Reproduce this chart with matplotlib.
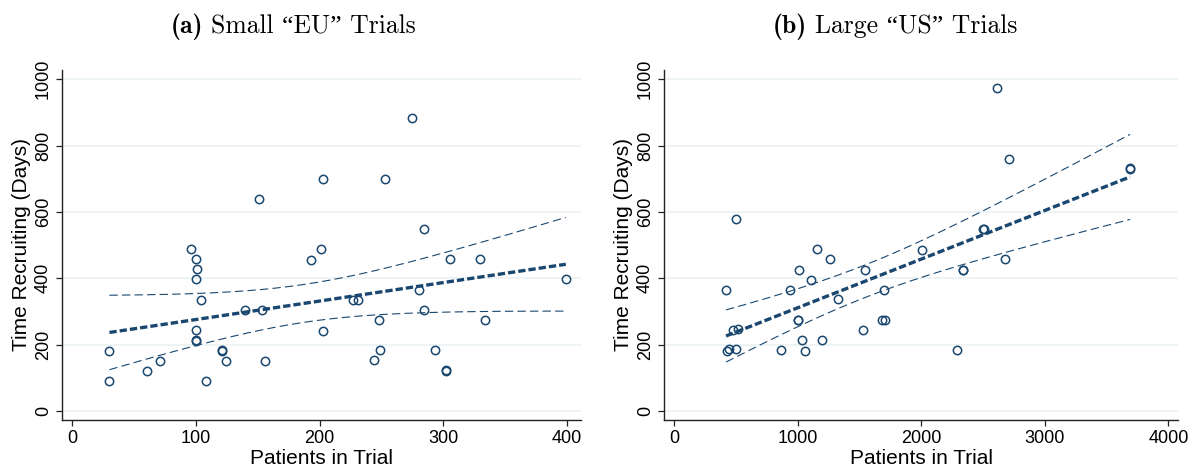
import numpy as np
import matplotlib
matplotlib.use("Agg")
import matplotlib.pyplot as plt

# ---------------- data ----------------
eu_patients = [30, 30, 60, 71, 96, 100, 101, 100, 104, 100, 100, 100, 108, 121, 121,
               124, 140, 151, 153, 156, 193, 201, 203, 203, 227, 231, 244, 248, 249,
               253, 275, 280, 284, 284, 293, 302, 302, 305, 330, 334, 399]
eu_days = [180, 92, 122, 152, 488, 457, 428, 397, 336, 245, 213, 210, 92, 184, 182,
           152, 305, 638, 305, 152, 456, 487, 700, 242, 336, 336, 154, 274, 184,
           700, 884, 366, 548, 305, 184, 123, 122, 458, 458, 275, 397]

us_patients = [2613, 2710, 3688, 3690, 499, 2504, 2506, 1159, 2008, 1262, 2680, 1014,
               1549, 2340, 2342, 1106, 421, 942, 1702, 1331, 1000, 1002, 1680, 1710,
               476, 521, 1529, 1039, 1195, 429, 448, 499, 869, 1056, 2292]
us_days = [974, 761, 732, 730, 578, 549, 550, 487, 486, 458, 458, 425, 426, 424, 425,
           394, 366, 366, 366, 337, 274, 274, 273, 273, 244, 246, 243, 213, 214, 182,
           188, 186, 184, 182, 183]

eu_xticks = [0, 100, 200, 300, 400]
us_xticks = [0, 1000, 2000, 3000, 4000]
yticks = [0, 200, 400, 600, 800, 1000]

titles = [("(a)", "Small \u201cEU\u201d Trials"), ("(b)", "Large \u201cUS\u201d Trials")]
xlabel = "Patients in Trial"
ylabel = "Time Recruiting (Days)"

# ---------------- style ----------------
NAVY = "#1a476f"
GRID = "#e9f1f3"
W, H = 1201, 472
fig = plt.figure(figsize=(W / 100, H / 100), dpi=100)
sans = ["Liberation Sans", "DejaVu Sans"]


def t_crit(df):
    # 97.5% quantiles of Student t for the relevant dfs
    table = {30: 2.042, 31: 2.040, 32: 2.037, 33: 2.035, 34: 2.032, 35: 2.030,
             36: 2.028, 37: 2.026, 38: 2.024, 39: 2.023, 40: 2.021}
    return table.get(df, 2.02)


def panel(rect, x, y, xticks, xlim):
    ax = fig.add_axes(rect)
    x = np.asarray(x, float)
    y = np.asarray(y, float)
    n = len(x)
    b1, b0 = np.polyfit(x, y, 1)
    resid = y - (b0 + b1 * x)
    s = np.sqrt(np.sum(resid ** 2) / (n - 2))
    xs = np.linspace(x.min(), x.max(), 200)
    fit = b0 + b1 * xs
    se = s * np.sqrt(1.0 / n + (xs - x.mean()) ** 2 / np.sum((x - x.mean()) ** 2))
    tc = t_crit(n - 2)
    for yy in yticks:
        ax.axhline(yy, color=GRID, lw=1.1, zorder=0)
    ax.plot(xs, fit + tc * se, color=NAVY, lw=0.8, ls=(0, (7.5, 3.8)), zorder=2)
    ax.plot(xs, fit - tc * se, color=NAVY, lw=0.8, ls=(0, (7.5, 3.8)), zorder=2)
    ax.plot(x, y, ls="none", marker="o", ms=6.0, mfc="none", mec=NAVY, mew=1.1, zorder=3)
    ax.plot(xs, fit, color=NAVY, lw=2.4, ls=(0, (2.2, 0.9)), zorder=4)
    ax.set_xlim(*xlim)
    ax.set_ylim(-27, 1028)
    ax.set_xticks(xticks)
    ax.set_yticks(yticks)
    ax.set_xticklabels([str(v) for v in xticks], fontsize=13, family=sans)
    ax.set_yticklabels([str(v) for v in yticks], fontsize=13, family=sans,
                       rotation=90, va="center")
    for sp in ("top", "right"):
        ax.spines[sp].set_visible(False)
    for sp in ("left", "bottom"):
        ax.spines[sp].set_color("#222222")
        ax.spines[sp].set_linewidth(1.0)
    ax.tick_params(axis="both", length=4.5, width=0.9, color="#222222", pad=3)
    ax.set_xlabel(xlabel, fontsize=15, family=sans, labelpad=1.5)
    ax.set_ylabel(ylabel, fontsize=15, family=sans, labelpad=3)
    return ax


def fx(px):
    return px / W


def fy(py):
    return 1 - py / H


top, bot = 70, 420
axa = panel([fx(62.3), fy(bot), fx(580.5 - 62.3), (bot - top) / H],
            eu_patients, eu_days, eu_xticks, (-8.1, 410.9))
axb = panel([fx(664.3), fy(bot), fx(1178 - 664.3), (bot - top) / H],
            us_patients, us_days, us_xticks, (-78.5, 4078))

# titles: bold tag + regular text, centred as a whole
renderer = fig.canvas.get_renderer()
for (tag, txt), cx in zip(titles, [293, 895]):
    t1 = fig.text(0, fy(33), tag, family=["cmb10", "Liberation Serif"], fontsize=18.5,
                  weight="bold", va="baseline", ha="left")
    t2 = fig.text(0, fy(33), txt, family=["cmr10", "Liberation Serif"], fontsize=18.5,
                  va="baseline", ha="left")
    w1 = t1.get_window_extent(renderer).width
    w2 = t2.get_window_extent(renderer).width
    gap = 8
    total = w1 + gap + w2
    x0 = cx - total / 2
    t1.set_x(fx(x0))
    t2.set_x(fx(x0 + w1 + gap))

fig.savefig("out.png", dpi=100)
